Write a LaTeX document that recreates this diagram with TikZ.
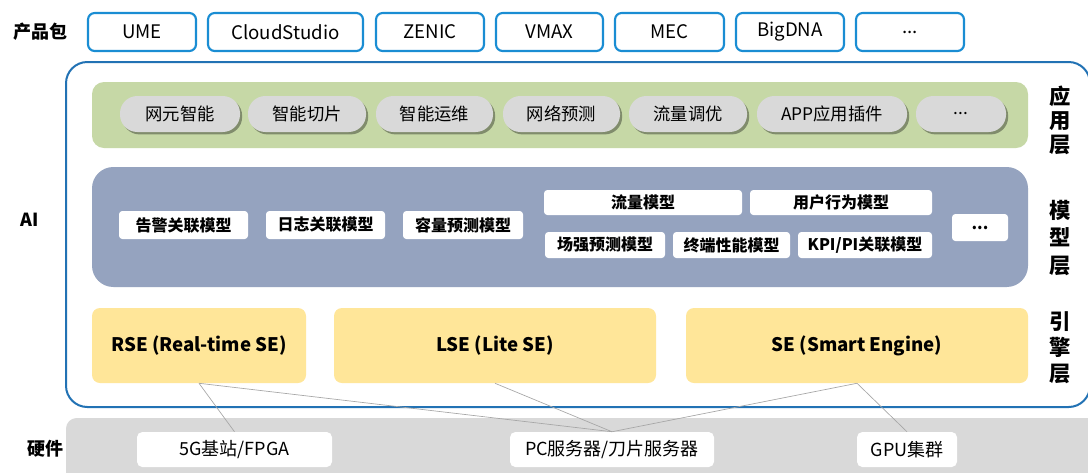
\documentclass[tikz,border=0pt]{standalone}
\usepackage{fontspec}
\setmainfont{Noto Sans CJK SC}
\usetikzlibrary{shadows}
\definecolor{pblue}{HTML}{1A8DD3}
\definecolor{oblue}{HTML}{2272B4}
\definecolor{appgreen}{HTML}{C6D8A6}
\definecolor{pillgray}{HTML}{D9D9D9}
\definecolor{modelblue}{HTML}{95A3BF}
\definecolor{engyellow}{HTML}{FFE699}
\definecolor{hwgray}{HTML}{D9D9D9}
\definecolor{linkgray}{HTML}{A6A6A6}
\newcommand\cbox[7]{\node[#1, minimum width={(#5-#3)*0.75pt}, minimum height={(#6-#4)*0.75pt}] (#2) at ({(#3+#5)/2},{(#4+#6)/2}) {#7};}
\tikzset{
  pbox/.style={draw=pblue, line width=1.6pt, rounded corners=5pt, fill=white, inner sep=0pt, font=\fontsize{14}{16}\selectfont},
  outerbox/.style={draw=oblue, line width=1.5pt, rounded corners=16pt, fill=white, inner sep=0pt},
  band/.style={rounded corners=9pt, inner sep=0pt},
  pill/.style={fill=pillgray, rounded corners=13pt, inner sep=0pt, font=\fontsize{13}{15}\selectfont,
    drop shadow={shadow xshift=1.6pt, shadow yshift=-1.8pt, fill=black, opacity=0.35}},
  mbox/.style={fill=white, rounded corners=2.5pt, inner sep=0pt, font=\fontsize{12}{14}\bfseries},
  ebox/.style={fill=engyellow, rounded corners=6pt, inner sep=0pt, font=\fontsize{14}{16}\bfseries},
  hwbox/.style={fill=white, rounded corners=4pt, inner sep=0pt, font=\fontsize{13.5}{15}\selectfont},
  sidelab/.style={font=\fontsize{13.5}{16}\bfseries, inner sep=0pt},
  layerlab/.style={align=center, inner sep=0pt},
  link/.style={draw=linkgray, line width=0.5pt}
}
\begin{document}
\begin{tikzpicture}[x=0.75pt, y=-0.75pt]
\useasboundingbox (0,0) rectangle (1088,472);
% hardware band
\cbox{fill=hwgray, band, rounded corners=8pt}{hw}{66}{418}{1110}{490}{}
% outer AI box
\cbox{outerbox}{ai}{66}{62}{1090}{407}{}
% product packages
\node[sidelab] (cpb) at (40,32) {产品包};
\cbox{pbox}{ume}{88}{13}{196}{51}{UME}
\cbox{pbox}{cs}{208}{13}{363}{51}{CloudStudio}
\cbox{pbox}{zenic}{376}{13}{484}{51}{ZENIC}
\cbox{pbox}{vmax}{496}{13}{603}{51}{VMAX}
\cbox{pbox}{mec}{615}{13}{724}{51}{MEC}
\cbox{pbox}{bigdna}{736}{13}{844}{51}{BigDNA}
\cbox{pbox}{pdots}{856}{13}{964}{51}{...}
% application layer
\cbox{fill=appgreen, band}{app}{92}{82}{1028}{148}{}
\cbox{pill}{p1}{120}{96}{240}{132}{网元智能}
\cbox{pill}{p2}{248}{96}{366}{132}{智能切片}
\cbox{pill}{p3}{376}{96}{493}{132}{智能运维}
\cbox{pill}{p4}{503}{96}{620}{132}{网络预测}
\cbox{pill}{p5}{629}{96}{747}{132}{流量调优}
\cbox{pill}{p6}{757}{96}{907}{132}{APP应用插件}
\cbox{pill}{p7}{916}{96}{1006}{132}{...}
\node[layerlab, font=\fontsize{16}{18}\bfseries] (lapp) at (1060,120) {应\\用\\层};
% model layer
\cbox{fill=modelblue, band, rounded corners=16pt}{model}{92}{167}{1028}{287}{}
\cbox{mbox}{m1}{119}{211}{248}{239}{告警关联模型}
\cbox{mbox}{m2}{266}{211}{385}{239}{日志关联模型}
\cbox{mbox}{m3}{403}{211}{523}{239}{容量预测模型}
\cbox{mbox}{m4}{544}{190}{742}{215}{流量模型}
\cbox{mbox}{m5}{750}{190}{932}{215}{用户行为模型}
\cbox{mbox}{m6}{545}{232}{665}{258}{场强预测模型}
\cbox{mbox}{m7}{673}{232}{790}{258}{终端性能模型}
\cbox{mbox}{m8}{798}{232}{932}{258}{KPI/PI关联模型}
\cbox{mbox}{m9}{952}{214}{1008}{241}{...}
\node[layerlab, font=\fontsize{16}{20.5}\bfseries] (lmodel) at (1060,238) {模\\型\\层};
\node[sidelab] (lai) at (30,220) {AI};
% engine layer
\cbox{ebox}{rse}{92}{308}{306}{383}{RSE (Real-time SE)}
\cbox{ebox}{lse}{334}{308}{656}{383}{LSE (Lite SE)}
\cbox{ebox}{se}{686}{308}{1028}{383}{SE (Smart Engine)}
\node[layerlab, font=\fontsize{16}{19.5}\bfseries] (leng) at (1060,348) {引\\擎\\层};
% hardware
\node[sidelab] (lhw) at (45,449) {硬件};
\cbox{hwbox}{fpga}{137}{432}{332}{467}{5G基站/FPGA}
\cbox{hwbox}{pc}{510}{432}{714}{467}{PC服务器/刀片服务器}
\cbox{hwbox}{gpu}{857}{432}{957}{467}{GPU集群}
% links
\draw[link] (rse.south) -- (fpga.north);
\draw[link] (rse.south) -- (pc.north);
\draw[link] (lse.south) -- (pc.north);
\draw[link] (se.south) -- (pc.north);
\draw[link] (se.south) -- (gpu.north);
\end{tikzpicture}
\end{document}
